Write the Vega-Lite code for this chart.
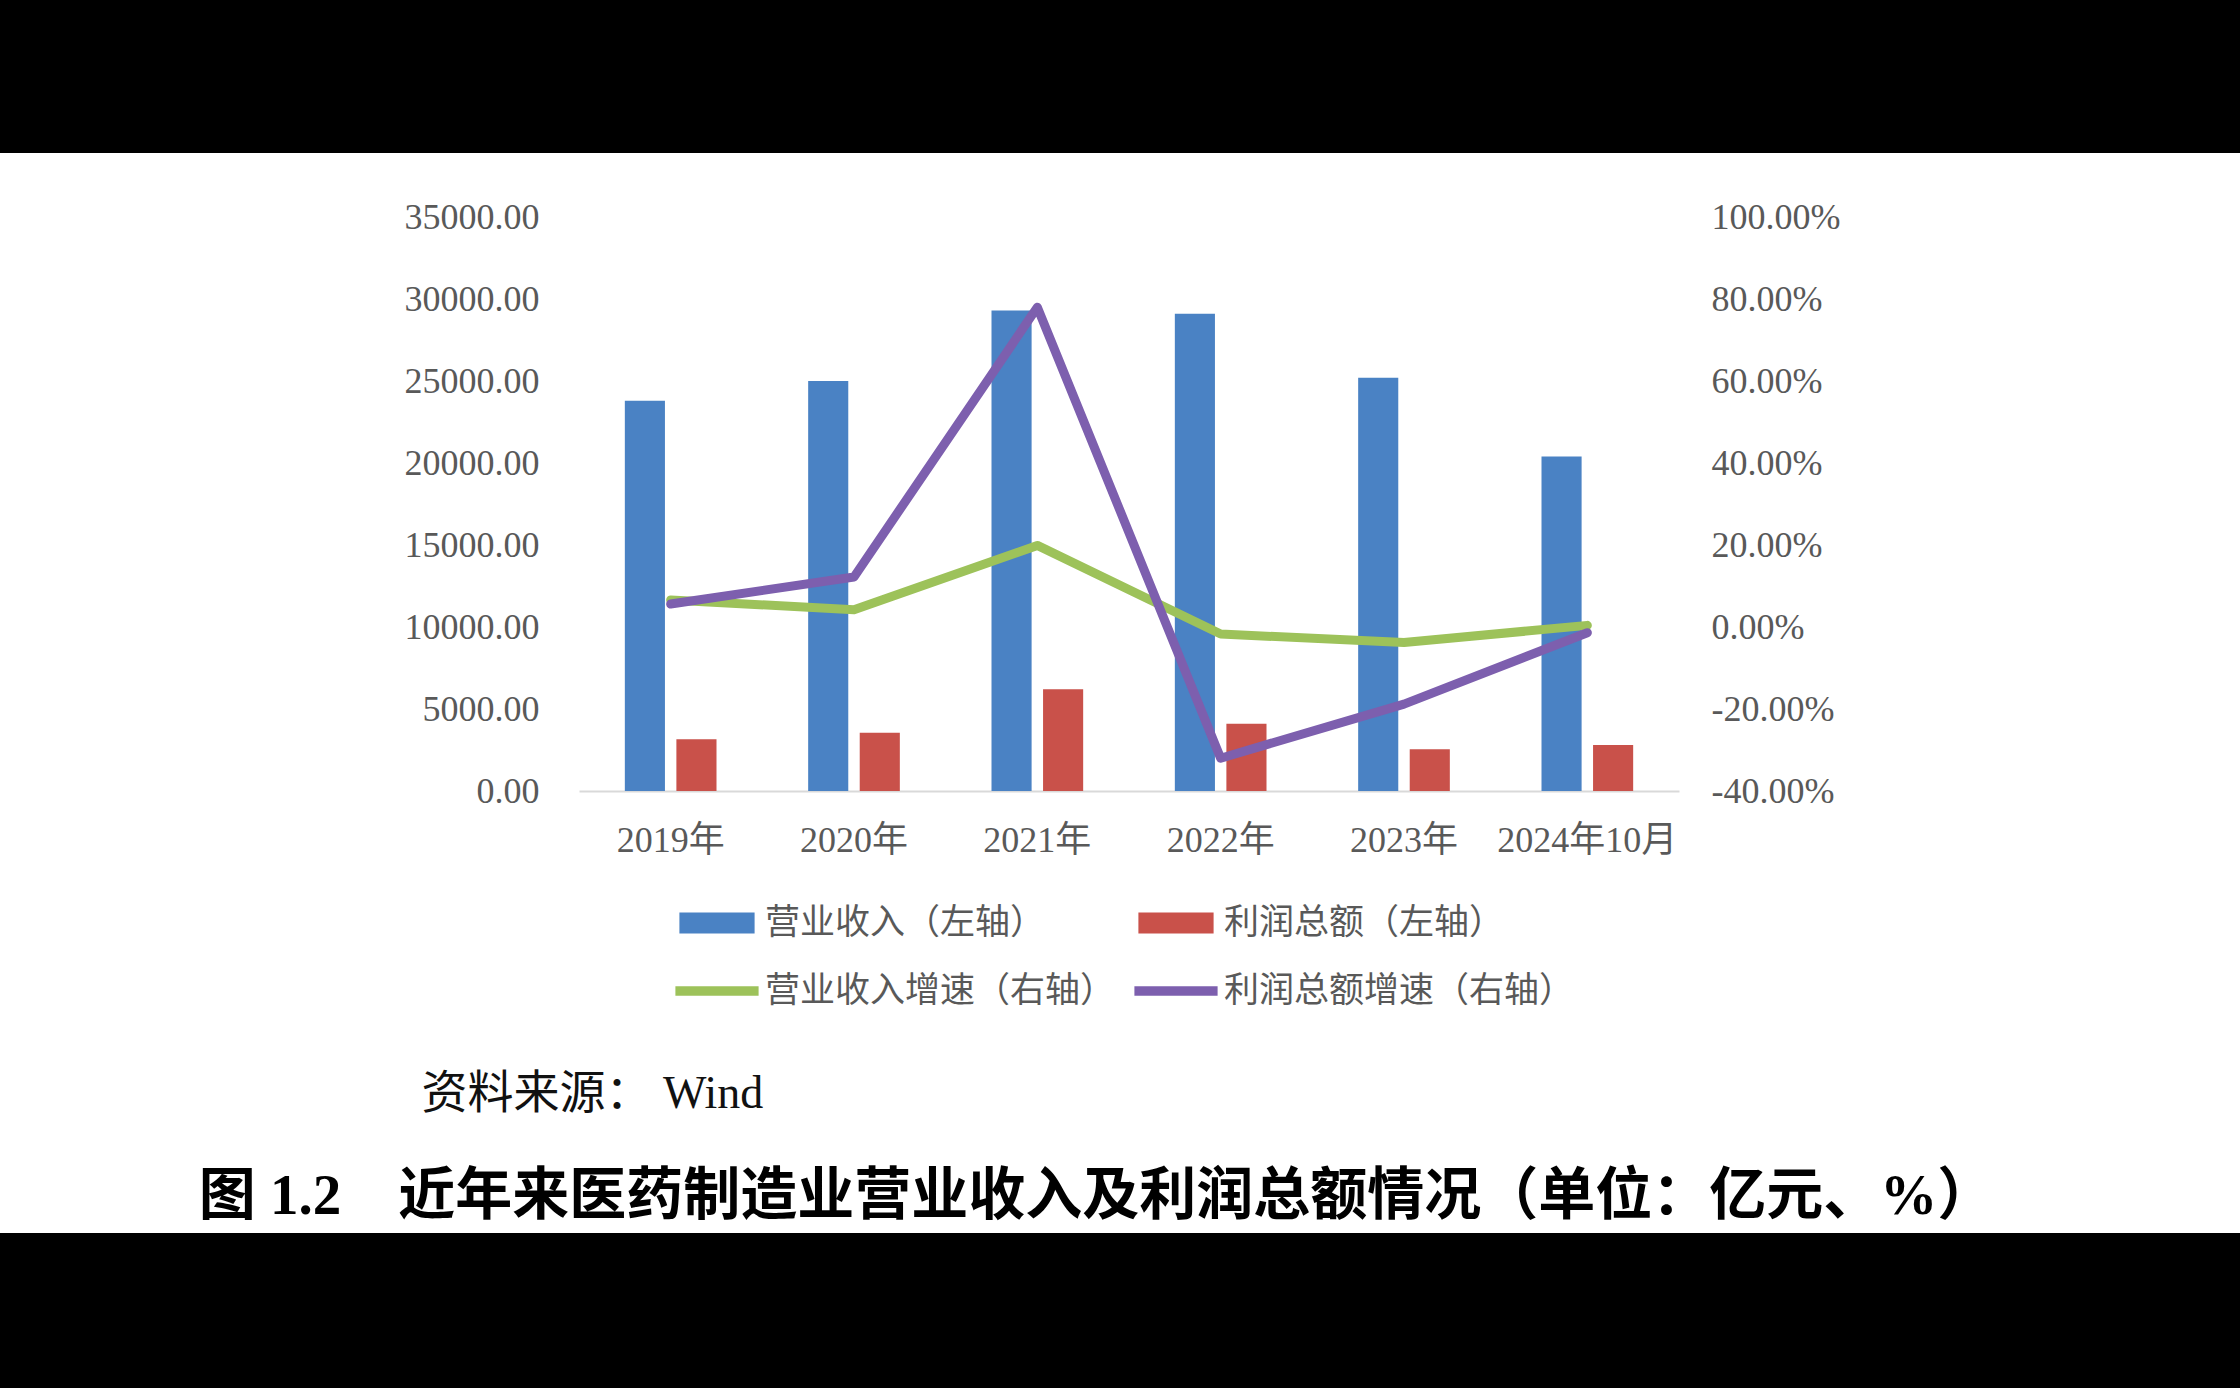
{
  "$schema": "https://vega.github.io/schema/vega-lite/v6.json",
  "width": 2240,
  "height": 1080,
  "autosize": {"type": "none"},
  "padding": {"top": 153, "bottom": 155, "left": 0, "right": 0},
  "background": "#000000",
  "data": {
    "values": [
      {"year": "2019年", "series": "营业收入（左轴）", "kind": "bar", "value": 23800},
      {"year": "2020年", "series": "营业收入（左轴）", "kind": "bar", "value": 25000},
      {"year": "2021年", "series": "营业收入（左轴）", "kind": "bar", "value": 29300},
      {"year": "2022年", "series": "营业收入（左轴）", "kind": "bar", "value": 29100},
      {"year": "2023年", "series": "营业收入（左轴）", "kind": "bar", "value": 25200},
      {"year": "2024年10月", "series": "营业收入（左轴）", "kind": "bar", "value": 20400},
      {"year": "2019年", "series": "利润总额（左轴）", "kind": "bar", "value": 3150},
      {"year": "2020年", "series": "利润总额（左轴）", "kind": "bar", "value": 3550},
      {"year": "2021年", "series": "利润总额（左轴）", "kind": "bar", "value": 6200},
      {"year": "2022年", "series": "利润总额（左轴）", "kind": "bar", "value": 4100},
      {"year": "2023年", "series": "利润总额（左轴）", "kind": "bar", "value": 2550},
      {"year": "2024年10月", "series": "利润总额（左轴）", "kind": "bar", "value": 2800},
      {"year": "2019年", "series": "营业收入增速（右轴）", "kind": "line", "value": 0.066},
      {"year": "2020年", "series": "营业收入增速（右轴）", "kind": "line", "value": 0.042},
      {"year": "2021年", "series": "营业收入增速（右轴）", "kind": "line", "value": 0.199},
      {"year": "2022年", "series": "营业收入增速（右轴）", "kind": "line", "value": -0.017},
      {"year": "2023年", "series": "营业收入增速（右轴）", "kind": "line", "value": -0.038},
      {"year": "2024年10月", "series": "营业收入增速（右轴）", "kind": "line", "value": 0.004},
      {"year": "2019年", "series": "利润总额增速（右轴）", "kind": "line", "value": 0.056},
      {"year": "2020年", "series": "利润总额增速（右轴）", "kind": "line", "value": 0.122},
      {"year": "2021年", "series": "利润总额增速（右轴）", "kind": "line", "value": 0.78},
      {"year": "2022年", "series": "利润总额增速（右轴）", "kind": "line", "value": -0.32},
      {"year": "2023年", "series": "利润总额增速（右轴）", "kind": "line", "value": -0.188},
      {"year": "2024年10月", "series": "利润总额增速（右轴）", "kind": "line", "value": -0.014}
    ]
  },
  "layer": [
    {
      "transform": [{"filter": "datum.kind === 'bar'"}],
      "mark": {"type": "bar"},
      "encoding": {
        "x": {
          "field": "year",
          "type": "nominal",
          "sort": null,
          "scale": {"range": [579, 1679], "paddingInner": 0.5, "paddingOuter": 0.25},
          "axis": {
            "orient": "bottom",
            "offset": -442,
            "domain": true,
            "domainColor": "#d9d9d9",
            "domainWidth": 2,
            "ticks": false,
            "grid": false,
            "labelAngle": 0,
            "labelPadding": 32,
            "labelOverlap": false,
            "labelLimit": 400,
            "labelFont": "Liberation Serif, Noto Sans CJK SC",
            "labelFontSize": 36,
            "labelColor": "#595959",
            "title": "资料来源：  Wind",
            "titleX": 421,
            "titleY": 302,
            "titleAlign": "left",
            "titleBaseline": "middle",
            "titleFont": "Liberation Serif, Noto Sans CJK SC",
            "titleFontSize": 46,
            "titleFontWeight": "normal",
            "titleColor": "#111111"
          }
        },
        "xOffset": {
          "field": "series",
          "sort": ["营业收入（左轴）", "利润总额（左轴）"],
          "scale": {"paddingInner": 0.222, "paddingOuter": 0}
        },
        "y": {
          "field": "value",
          "type": "quantitative",
          "scale": {"domain": [0, 35000], "range": [638, 64], "nice": false},
          "axis": {
            "values": [0, 5000, 10000, 15000, 20000, 25000, 30000, 35000],
            "format": ".2f",
            "offset": -579,
            "domain": false,
            "ticks": false,
            "grid": false,
            "labelPadding": 40,
            "labelFont": "Liberation Serif",
            "labelFontSize": 36,
            "labelColor": "#595959",
            "title": "图 1.2　近年来医药制造业营业收入及利润总额情况（单位：亿元、%）",
            "titleX": 517,
            "titleY": 1043,
            "titleAngle": 0,
            "titleAlign": "center",
            "titleBaseline": "middle",
            "titleFont": "Liberation Serif, Noto Sans CJK SC",
            "titleFontSize": 57,
            "titleFontWeight": "bold",
            "titleColor": "#000000"
          }
        },
        "color": {
          "field": "series",
          "type": "nominal",
          "scale": {
            "domain": ["营业收入（左轴）", "利润总额（左轴）", "营业收入增速（右轴）", "利润总额增速（右轴）"],
            "range": ["#4a82c4", "#c9514a", "#9dc25a", "#7d5fae"]
          },
          "legend": {
            "orient": "none",
            "legendX": 677,
            "legendY": 730,
            "direction": "horizontal",
            "columns": 2,
            "title": null,
            "padding": 0,
            "labelFont": "Noto Sans CJK SC",
            "labelFontSize": 35,
            "labelColor": "#595959",
            "labelLimit": 600,
            "labelOffset": 8,
            "symbolSize": 6400,
            "symbolStrokeWidth": 0,
            "columnPadding": 18,
            "rowPadding": 10,
            "encode": {
              "symbols": {
                "update": {
                  "shape": {"signal": "indexof(['营业收入（左轴）','利润总额（左轴）'], datum.value) >= 0 ? 'M-0.94,-0.26H0.94V0.26H-0.94Z' : 'M-1.04,-0.12H1.04V0.12H-1.04Z'"},
                  "fill": {"signal": "scale('color', datum.value)"},
                  "stroke": {"value": "transparent"},
                  "opacity": {"value": 1}
                }
              }
            }
          }
        }
      }
    },
    {
      "transform": [{"filter": "datum.kind === 'line'"}],
      "mark": {"type": "line", "strokeWidth": 9, "strokeJoin": "round", "strokeCap": "round"},
      "encoding": {
        "x": {"field": "year", "type": "nominal", "sort": null},
        "y": {
          "field": "value",
          "type": "quantitative",
          "scale": {"domain": [-0.4, 1.0], "range": [638, 64], "nice": false, "zero": false},
          "axis": {
            "orient": "right",
            "values": [-0.4, -0.2, 0, 0.2, 0.4, 0.6, 0.8, 1.0],
            "format": ".2%",
            "labelExpr": "replace(datum.label, '−', '-')",
            "offset": -561,
            "domain": false,
            "ticks": false,
            "grid": false,
            "labelPadding": 32,
            "labelFont": "Liberation Serif",
            "labelFontSize": 36,
            "labelColor": "#595959",
            "title": null
          }
        },
        "color": {"field": "series", "type": "nominal"}
      }
    }
  ],
  "resolve": {"scale": {"y": "independent"}},
  "config": {"view": {"fill": "#ffffff", "stroke": null}}
}
